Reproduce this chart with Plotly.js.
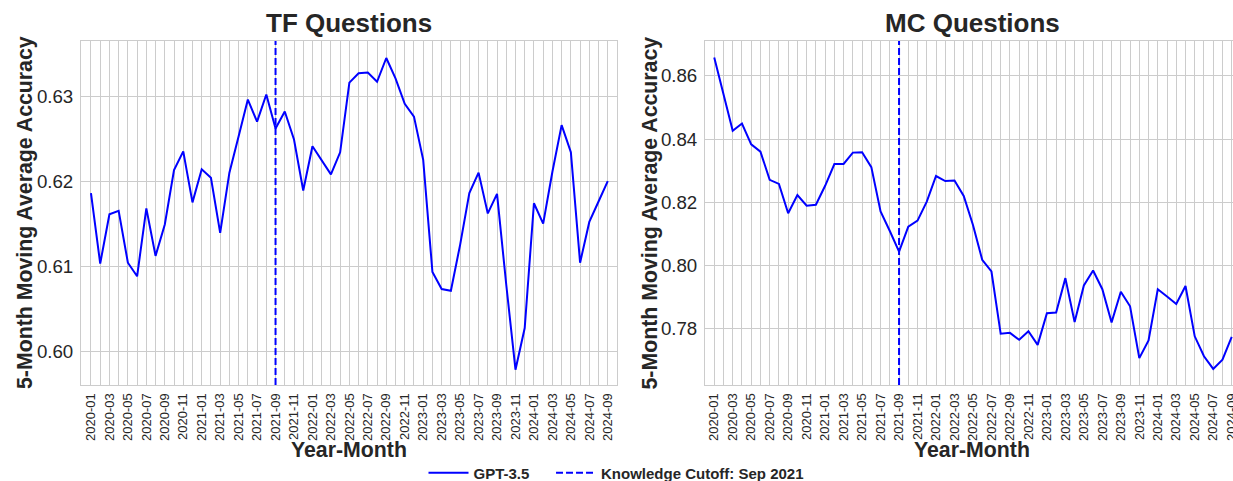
<!DOCTYPE html>
<html>
<head>
<meta charset="utf-8">
<script src="https://cdn.plot.ly/plotly-3.0.1.min.js"></script>
<style>html,body{margin:0;padding:0;background:#fff;}#chart{width:1233px;height:481px;}</style>
</head>
<body>
<div id="chart"></div>
<script>
// ---- data ----
const months = [
  "2020-01","2020-02","2020-03","2020-04","2020-05","2020-06","2020-07","2020-08","2020-09","2020-10","2020-11","2020-12",
  "2021-01","2021-02","2021-03","2021-04","2021-05","2021-06","2021-07","2021-08","2021-09","2021-10","2021-11","2021-12",
  "2022-01","2022-02","2022-03","2022-04","2022-05","2022-06","2022-07","2022-08","2022-09","2022-10","2022-11","2022-12",
  "2023-01","2023-02","2023-03","2023-04","2023-05","2023-06","2023-07","2023-08","2023-09","2023-10","2023-11","2023-12",
  "2024-01","2024-02","2024-03","2024-04","2024-05","2024-06","2024-07","2024-08","2024-09"
];
const tfAccuracy = [
  0.6186,0.6103,0.6161,0.6165,0.6104,0.6088,0.6168,0.6112,0.6149,0.6213,0.6235,0.6175,
  0.6214,0.6204,0.6139,0.6210,0.6253,0.6296,0.6270,0.6302,0.6262,0.6282,0.6249,0.6189,
  0.6241,0.6225,0.6208,0.6234,0.6316,0.6327,0.6328,0.6317,0.6345,0.6321,0.6291,0.6276,
  0.6225,0.6093,0.6073,0.6071,0.6125,0.6186,0.6210,0.6162,0.6185,0.6078,0.5978,0.6027,
  0.6174,0.6150,0.6211,0.6266,0.6234,0.6104,0.6152,0.6176,0.6200
];
const mcAccuracy = [
  0.8658,0.8544,0.8426,0.8449,0.8383,0.8360,0.8271,0.8258,0.8165,0.8223,0.8189,0.8192,
  0.8252,0.8321,0.8321,0.8357,0.8358,0.8311,0.8171,0.8109,0.8044,0.8123,0.8142,0.8202,
  0.8283,0.8267,0.8269,0.8220,0.8128,0.8018,0.7981,0.7784,0.7787,0.7765,0.7792,0.7749,
  0.7849,0.7851,0.7960,0.7821,0.7937,0.7984,0.7925,0.7820,0.7917,0.7871,0.7707,0.7763,
  0.7925,0.7902,0.7878,0.7935,0.7776,0.7713,0.7673,0.7702,0.7774
];
const cutoffMonth = "2021-09";
const modelName = "GPT-3.5";
const cutoffLabel = "Knowledge Cutoff: Sep 2021";
const panelTitles = ["TF Questions", "MC Questions"];
const xTitle = "Year-Month";
const yTitle = "5-Month Moving Average Accuracy";
const tfTicks = [0.60, 0.61, 0.62, 0.63];
const mcTicks = [0.78, 0.80, 0.82, 0.84, 0.86];

// ---- style ----
const FONT = "Liberation Sans, Arial, sans-serif";
const TXT = "#262626";
const GRID = "#cccccc";
const BLUE = "#0000ff";
const W = 1233, H = 481;
const plotTop = 41, plotBottom = 385;
const yDom = [(H - plotBottom) / H, (H - plotTop) / H];

const tickText = months.map((m, i) => (i % 2 === 0 ? m : ""));

function xAxis(domain, range) {
  return {
    domain: domain, type: "category", range: range,
    tickmode: "array", tickvals: months, ticktext: tickText,
    tickangle: -90, tickfont: {family: FONT, size: 13, color: TXT},
    showgrid: true, gridcolor: GRID, gridwidth: 1,
    showline: true, linecolor: GRID, linewidth: 1, mirror: true,
    ticks: "", zeroline: false, automargin: false, ticklabelstandoff: 2
  };
}
function yAxis(range, ticks, anchor) {
  return {
    domain: yDom, range: range, anchor: anchor,
    tickmode: "array", tickvals: ticks, ticktext: ticks.map(v => v.toFixed(2)),
    tickfont: {family: FONT, size: 18.7, color: TXT},
    showgrid: true, gridcolor: GRID, gridwidth: 1,
    showline: true, linecolor: GRID, linewidth: 1, mirror: true,
    ticks: "", zeroline: false, automargin: false, ticklabelstandoff: 3
  };
}

const GAP = "&nbsp;&nbsp;&nbsp;&nbsp;";
const traces = [
  {x: months, y: tfAccuracy, xaxis: "x", yaxis: "y", type: "scatter", mode: "lines",
   line: {color: BLUE, width: 2}, name: modelName + GAP, showlegend: true, legendgroup: "m"},
  {x: months, y: mcAccuracy, xaxis: "x2", yaxis: "y2", type: "scatter", mode: "lines",
   line: {color: BLUE, width: 2}, name: modelName, showlegend: false, legendgroup: "m"},
  {x: [null], y: [null], xaxis: "x", yaxis: "y", type: "scatter", mode: "lines",
   line: {color: BLUE, width: 2, dash: "7px,3px"}, name: cutoffLabel, showlegend: true}
];

const shapes = [
  {type: "line", xref: "x", yref: "y domain", x0: cutoffMonth, x1: cutoffMonth, y0: 0, y1: 1,
   line: {color: BLUE, width: 2, dash: "7px,3px"}},
  {type: "line", xref: "x2", yref: "y2 domain", x0: cutoffMonth, x1: cutoffMonth, y0: 0, y1: 1,
   line: {color: BLUE, width: 2, dash: "7px,3px"}}
];

const d1 = [81 / W, 617 / W];
const d2 = [705 / W, 1];
const c1 = (d1[0] + d1[1]) / 2;

function ann(text, x, y, size, angle) {
  return {text: "<b>" + text + "</b>", xref: "paper", yref: "paper", x: x, y: y,
    xanchor: "center", yanchor: "middle", showarrow: false, textangle: angle || 0,
    font: {family: FONT, size: size, color: TXT}};
}
const midY = 1 - ((plotTop + plotBottom) / 2) / H;
const annotations = [
  ann(panelTitles[0], c1, 1 - 23 / H, 26),
  ann(panelTitles[1], 972 / W, 1 - 23 / H, 26),
  ann(xTitle, c1, 1 - 450 / H, 21.3),
  ann(xTitle, 972 / W, 1 - 450 / H, 21.3),
  ann(yTitle, 25 / W, midY, 21.3, -90),
  ann(yTitle, 649.5 / W, midY, 21.3, -90)
];

const layout = {
  width: W, height: H,
  margin: {l: 0, r: 0, t: 0, b: 0, autoexpand: false},
  paper_bgcolor: "#ffffff", plot_bgcolor: "#ffffff",
  xaxis: xAxis(d1, [-1.08, 57.0]),
  yaxis: yAxis([0.596, 0.6365], tfTicks, "x"),
  xaxis2: xAxis(d2, [-1.0, 56.14]),
  yaxis2: yAxis([0.7622, 0.8710], mcTicks, "x2"),
  shapes: shapes,
  annotations: annotations,
  showlegend: true,
  legend: {orientation: "h", x: 0.5, xanchor: "center", y: 1 - 473 / H, yanchor: "middle",
    itemwidth: 40,
    font: {family: FONT, size: 15, color: TXT, weight: "bold"}, bgcolor: "rgba(0,0,0,0)"}
};

Plotly.newPlot("chart", traces, layout, {staticPlot: true, displayModeBar: false});
</script>
</body>
</html>
